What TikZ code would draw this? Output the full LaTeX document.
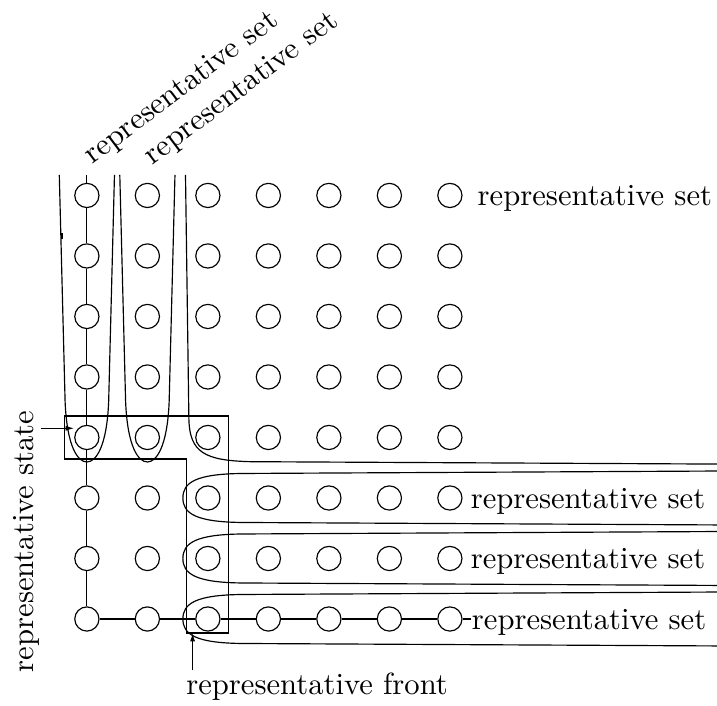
\documentclass[tikz,border=0pt]{standalone}
\usetikzlibrary{arrows.meta}
\begin{document}
\begin{tikzpicture}[
  line width=0.55pt,
  dot/.style={circle, draw, minimum size=0.4cm, inner sep=0pt},
  lbl/.style={font=\fontsize{10}{12}\selectfont, scale=1.44, inner sep=0pt},
  pointer/.style={-{Latex[length=4pt,width=2.4pt]}},
]
\useasboundingbox (-1.436,-1.438) rectangle (10.415,10.231);

% grid of states
\foreach \i in {0,...,6}
  \foreach \j in {0,...,7}
    \node[dot] (c\i\j) at (\i,\j) {};

% labels
\node[lbl, anchor=base west] (set7) at (6.446,6.83) {representative set};
\node[lbl, anchor=base west] (set2) at (6.332,1.83) {representative set};
\node[lbl, anchor=base west] (set1) at (6.332,0.83) {representative set};
\node[lbl, anchor=base west] (set0) at (6.35,-0.17) {representative set};
\node[lbl, anchor=base west, rotate=37] (colset0) at (0.085,7.50) {representative set};
\node[lbl, anchor=base west, rotate=37] (colset1) at (1.075,7.49) {representative set};
\node[lbl, anchor=base west, rotate=90] (state) at (-0.884,-0.893) {representative state};
\node[lbl, anchor=base west] (front) at (1.63,-1.256) {representative front};

% path along the first column and the bottom row
\coordinate (top) at (0,7.34);
\draw (top) -- (c07) -- (c06) -- (c05) -- (c04) -- (c03) -- (c02) -- (c01) -- (c00)
  -- (c10) -- (c20) -- (c30) -- (c40) -- (c50) -- (c60) -- (c60.east -| set0.west);

% column sets
\foreach \c in {0,1}
  \draw (\c-0.456,7.34) -- (\c-0.36,3.595)
    .. controls (\c-0.33,2.845) and (\c-0.15,2.595) .. (\c,2.595)
    .. controls (\c+0.15,2.595) and (\c+0.33,2.845) .. (\c+0.36,3.595)
    -- (\c+0.456,7.34);

% row sets
\foreach \r in {0,1,2}
  \draw (10.5,\r+0.446) -- (2.587,\r+0.405)
    .. controls (1.787,\r+0.40) and (1.587,\r+0.25) .. (1.587,\r)
    .. controls (1.587,\r-0.25) and (1.787,\r-0.40) .. (2.587,\r-0.405)
    -- (10.5,\r-0.446);

% boundary of the upper right set
\draw (1.63,7.34) -- (1.686,3.3) .. controls (1.70,2.75) and (1.95,2.62) .. (2.7,2.60) -- (10.5,2.56);

% front box
\coordinate (b1) at (-0.364,3.355);
\coordinate (b2) at (2.340,3.355);
\coordinate (b3) at (2.340,-0.231);
\coordinate (b4) at (1.645,-0.231);
\coordinate (b5) at (1.645,2.645);
\coordinate (b6) at (-0.364,2.645);
\draw (b1) -- (b2) -- (b3) -- (b4) -- (b5) -- (b6) -- cycle;

% pointers
\coordinate (sa) at (-0.765,3.152);
\draw[pointer] (sa) -- (sa -| c03.west);
\coordinate (fa) at (1.747,-0.843);
\draw[pointer] (fa) -- (fa |- b4);

% small mark
\draw (-0.41,6.28) -- (-0.41,6.38);
\end{tikzpicture}
\end{document}
